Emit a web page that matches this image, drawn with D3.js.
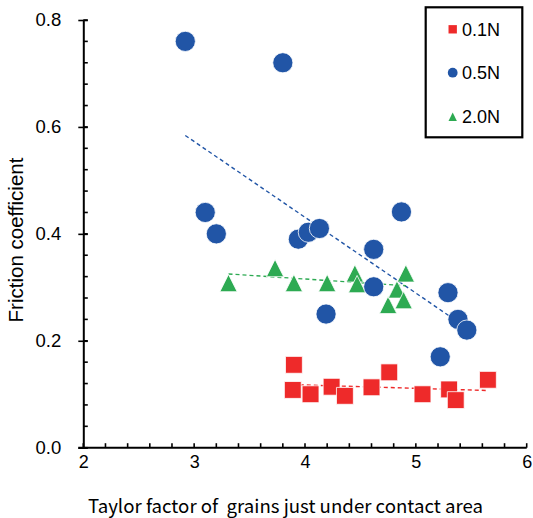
<!DOCTYPE html>
<html>
<head>
<meta charset="utf-8">
<script src="https://cdn.jsdelivr.net/npm/d3@7"></script>
<style>
  body { margin: 0; background: #fff; }
  text { font-family: "Liberation Sans", Arial, sans-serif; fill: #000; }
</style>
</head>
<body>
<div id="chart"></div>
<script>
// values
const xTicks = [2, 3, 4, 5, 6];
const yTicks = [0.0, 0.2, 0.4, 0.6, 0.8];
const seriesNames = ['0.1N', '0.5N', '2.0N'];

const red01X = [3.90, 3.89, 4.05, 4.24, 4.36, 4.60, 4.76, 5.06, 5.30, 5.36, 5.65];
const red01Y = [0.155, 0.108, 0.100, 0.114, 0.097, 0.113, 0.141, 0.100, 0.109, 0.089, 0.127];

const blue05X = [2.92, 3.80, 3.10, 3.20, 3.94, 4.03, 4.13, 4.87, 4.62, 4.62, 4.19, 5.29, 5.38, 5.46, 5.22];
const blue05Y = [0.760, 0.720, 0.440, 0.400, 0.390, 0.403, 0.410, 0.441, 0.371, 0.301, 0.250, 0.290, 0.240, 0.220, 0.170];

const green20X = [3.31, 3.73, 3.90, 4.20, 4.45, 4.47, 4.75, 4.83, 4.89, 4.91];
const green20Y = [0.308, 0.336, 0.308, 0.308, 0.326, 0.306, 0.267, 0.296, 0.276, 0.326];

// dashed trend lines, end points
const red01TrendX = [3.89, 5.65];
const red01TrendY = [0.118, 0.107];
const blue05TrendX = [2.92, 5.46];
const blue05TrendY = [0.584, 0.224];
const green20TrendX = [3.31, 4.91];
const green20TrendY = [0.325, 0.303];

const W = 533, H = 518;
const svg = d3.select('#chart').append('svg')
    .attr('width', W)
    .attr('height', H);

const x = d3.scaleLinear().domain([2, 6]).range([83.3, 526.7]);
const y = d3.scaleLinear().domain([0, 0.8]).range([447.7, 20]);

const zip = (xs, ys) => xs.map((v, i) => ({ x: v, y: ys[i] }));

// triangle as tall as it is wide, like the spreadsheet marker
const tallTriangle = {
    draw(ctx, size) {
        const h = Math.sqrt(size);
        ctx.moveTo(0, -h / 2);
        ctx.lineTo(h / 2, h / 2);
        ctx.lineTo(-h / 2, h / 2);
        ctx.closePath();
    }
};

const series = [
    { name: seriesNames[0], color: '#EE2A2A', shape: d3.symbolSquare, size: 285, data: zip(red01X, red01Y), trend: zip(red01TrendX, red01TrendY) },
    { name: seriesNames[1], color: '#2155A6', shape: d3.symbolCircle, size: 320, data: zip(blue05X, blue05Y), trend: zip(blue05TrendX, blue05TrendY) },
    { name: seriesNames[2], color: '#2DAA52', shape: tallTriangle, size: 300, data: zip(green20X, green20Y), trend: zip(green20TrendX, green20TrendY) }
];

// minor ticks
const xMinor = d3.range(2, 6.001, 0.2);
const yMinor = d3.range(0, 0.8001, 0.04);

svg.append('g')
    .attr('stroke', '#000')
    .attr('stroke-width', 1.6)
    .selectAll('line.xm')
    .data(xMinor)
    .enter().append('line')
    .attr('x1', d => x(d)).attr('x2', d => x(d))
    .attr('y1', y(0)).attr('y2', y(0) - 4.5);

svg.append('g')
    .attr('stroke', '#000')
    .attr('stroke-width', 1.6)
    .selectAll('line.ym')
    .data(yMinor)
    .enter().append('line')
    .attr('x1', x(2)).attr('x2', x(2) + 4.5)
    .attr('y1', d => y(d)).attr('y2', d => y(d));

// x axis
const xAxis = svg.append('g')
    .attr('transform', 'translate(0,' + y(0) + ')')
    .call(d3.axisBottom(x).tickValues(xTicks).tickSize(0).tickSizeOuter(0).tickPadding(8)
        .tickFormat(d3.format('d')));
xAxis.select('.domain').attr('stroke-width', 2).attr('d', 'M' + (x(2) - 5) + ',0H' + x(6));
xAxis.selectAll('text').style('font-size', '18px');

// y axis
const yAxis = svg.append('g')
    .attr('transform', 'translate(' + x(2) + ',0)')
    .call(d3.axisLeft(y).tickValues(yTicks).tickSizeInner(5).tickSizeOuter(0).tickPadding(17)
        .tickFormat(d3.format('.1f')));
yAxis.select('.domain').attr('stroke-width', 2);
yAxis.selectAll('.tick line').attr('stroke-width', 1.6).attr('x2', -5).attr('x1', 4.5);
yAxis.selectAll('text').style('font-size', '18.5px');

// axis titles
svg.append('text')
    .attr('transform', 'translate(23,' + 240 + ') rotate(-90)')
    .attr('text-anchor', 'middle')
    .style('font-size', '20.5px')
    .text('Friction coefficient');

svg.append('text')
    .attr('x', 88)
    .attr('y', 513)
    .attr('textLength', 395)
    .attr('lengthAdjust', 'spacingAndGlyphs')
    .style('font-family', '"Noto Sans CJK JP", sans-serif')
    .style('font-size', '18.5px')
    .attr('xml:space', 'preserve')
    .text('Taylor factor of  grains just under contact area');

// trend lines
const line = d3.line().x(d => x(d.x)).y(d => y(d.y));
svg.selectAll('path.trend')
    .data(series)
    .enter().append('path')
    .attr('class', 'trend')
    .attr('d', d => line(d.trend))
    .attr('fill', 'none')
    .attr('stroke', d => d.color)
    .attr('stroke-width', 1.4)
    .attr('stroke-dasharray', '4,3');

// markers
const drawOrder = [series[2], series[1], series[0]];
drawOrder.forEach(s => {
    svg.append('g').selectAll('path')
        .data(s.data)
        .enter().append('path')
        .attr('transform', d => 'translate(' + x(d.x) + ',' + y(d.y) + ')')
        .attr('d', d3.symbol().type(s.shape).size(s.size))
        .attr('fill', s.color)
        .attr('stroke', '#fff')
        .attr('stroke-width', 0.8);
});

// legend
const legend = svg.append('g');
legend.append('rect')
    .attr('x', 425.7).attr('y', 7.3)
    .attr('width', 96.6).attr('height', 130)
    .attr('fill', '#fff')
    .attr('stroke', '#000')
    .attr('stroke-width', 2.2);

const legendY = [29.3, 72.7, 116.7];
const legendSize = [70, 75, 70];
series.forEach((s, i) => {
    legend.append('path')
        .attr('transform', 'translate(452.7,' + legendY[i] + ')')
        .attr('d', d3.symbol().type(s.shape).size(legendSize[i]))
        .attr('fill', s.color);
    legend.append('text')
        .attr('x', 462)
        .attr('y', legendY[i])
        .attr('dy', '0.36em')
        .style('font-size', '18px')
        .text(s.name);
});
</script>
</body>
</html>
